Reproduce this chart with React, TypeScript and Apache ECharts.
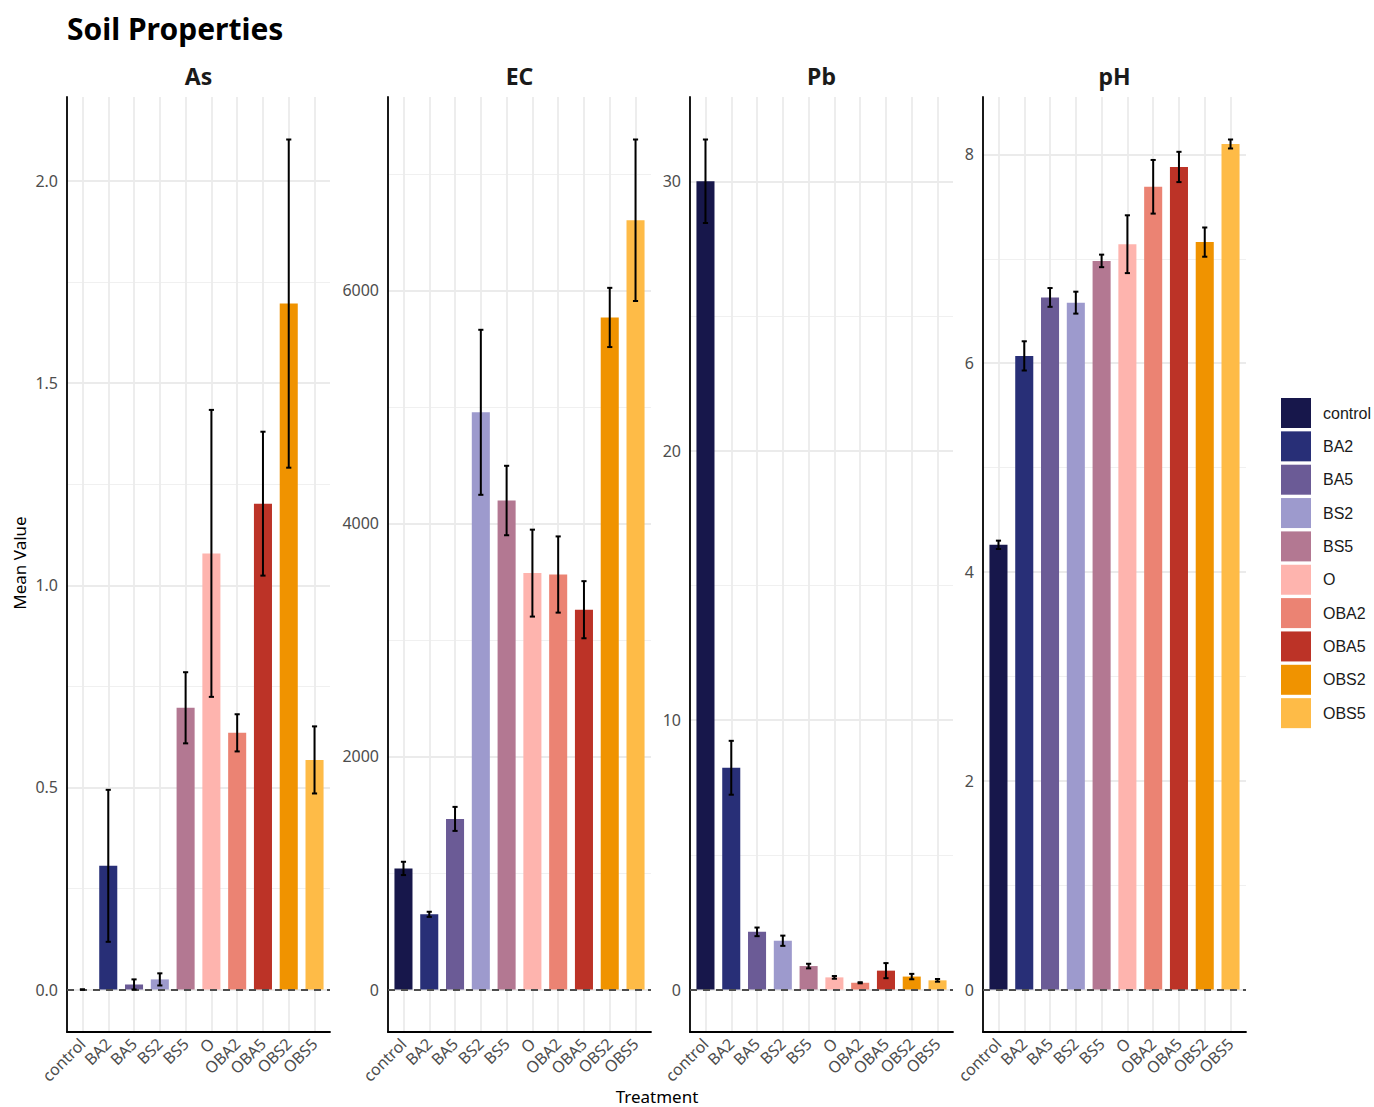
import React, { useEffect, useRef } from "react";
import * as echarts from "echarts";

// Treatments (x categories) and their fill colours
const treatments = ["control", "BA2", "BA5", "BS2", "BS5", "O", "OBA2", "OBA5", "OBS2", "OBS5"];
const treatmentColors = [
  "#17174B", "#282F77", "#6B5B96", "#9D9ACD", "#B37892",
  "#FEB4AE", "#EB8373", "#BC3327", "#F09300", "#FEBB47",
];

// Mean value and standard error per treatment, one pair of arrays per property
const asMean = [0, 0.306, 0.0125, 0.025, 0.697, 1.079, 0.635, 1.202, 1.697, 0.568];
const asSE = [0, 0.188, 0.0125, 0.015, 0.088, 0.355, 0.046, 0.178, 0.406, 0.083];

const ecMean = [1039, 645, 1464, 4953, 4196, 3573, 3561, 3259, 5767, 6601];
const ecSE = [57, 22, 103, 708, 298, 373, 327, 245, 254, 693];

const pbMean = [30.0, 8.23, 2.14, 1.81, 0.87, 0.45, 0.25, 0.7, 0.48, 0.34];
const pbSE = [1.55, 1.0, 0.16, 0.19, 0.085, 0.05, 0.02, 0.28, 0.1, 0.05];

const phMean = [4.26, 6.07, 6.63, 6.58, 6.98, 7.14, 7.69, 7.88, 7.16, 8.1];
const phSE = [0.04, 0.14, 0.09, 0.105, 0.06, 0.277, 0.257, 0.145, 0.14, 0.043];

// Axis breaks per panel
const asTicks = [0, 0.5, 1, 1.5, 2];
const asMinor = [0.25, 0.75, 1.25, 1.75];
const ecTicks = [0, 2000, 4000, 6000];
const ecMinor = [1000, 3000, 5000, 7000];
const pbTicks = [0, 10, 20, 30];
const pbMinor = [5, 15, 25];
const phTicks = [0, 2, 4, 6, 8];
const phMinor = [1, 3, 5, 7];

const panels = [
  { name: "As", mean: asMean, se: asSE, ticks: asTicks, minor: asMinor, digits: 1 },
  { name: "EC", mean: ecMean, se: ecSE, ticks: ecTicks, minor: ecMinor, digits: 0 },
  { name: "Pb", mean: pbMean, se: pbSE, ticks: pbTicks, minor: pbMinor, digits: 0 },
  { name: "pH", mean: phMean, se: phSE, ticks: phTicks, minor: phMinor, digits: 0 },
];

// Layout
const W = 1374;
const H = 1107;
const panelLefts = [67, 388, 690, 983];
const panelWidth = 263;
const panelTop = 97;
const panelHeight = 935;
const FONT = "'Noto Sans', 'DejaVu Sans', sans-serif";
const TICK_COLOR = "#4D4D4D";
const GRID_COLOR = "#EBEBEB";

function buildOption() {
  const grid: any[] = [];
  const xAxis: any[] = [];
  const yAxis: any[] = [];
  const series: any[] = [];
  const graphic: any[] = [];

  panels.forEach((p, i) => {
    const tops = p.mean.map((m, k) => m + p.se[k]);
    const lows = p.mean.map((m, k) => m - p.se[k]);
    const hi = Math.max(0, ...tops);
    const lo = Math.min(0, ...lows);
    const pad = (hi - lo) * 0.05;
    const yMin = lo - pad;
    const yMax = hi + pad;

    grid.push({
      left: panelLefts[i],
      top: panelTop,
      width: panelWidth,
      height: panelHeight,
      containLabel: false,
    });

    const catIdx = treatments.map((_, k) => k);
    xAxis.push({
      gridIndex: i,
      type: "value",
      min: -0.6,
      max: treatments.length - 1 + 0.6,
      axisLine: { show: true, onZero: false, lineStyle: { color: "#000", width: 1.8 } },
      axisTick: { show: false, customValues: catIdx },
      axisLabel: {
        customValues: catIdx,
        rotate: 45,
        margin: 9,
        color: TICK_COLOR,
        fontSize: 16,
        fontFamily: FONT,
        formatter: (v: number) => treatments[Math.round(v)] ?? "",
      },
      splitLine: { show: true, lineStyle: { color: GRID_COLOR, width: 1.8 } },
    });

    // major axis with labels
    yAxis.push({
      gridIndex: i,
      type: "value",
      min: yMin,
      max: yMax,
      axisLine: { show: true, onZero: false, lineStyle: { color: "#000", width: 1.8 } },
      axisTick: { show: false, customValues: p.ticks },
      axisLabel: {
        customValues: p.ticks,
        margin: 9,
        color: TICK_COLOR,
        fontSize: 16,
        fontFamily: FONT,
        formatter: (v: number) => v.toFixed(p.digits),
      },
      splitLine: { show: true, lineStyle: { color: GRID_COLOR, width: 1.8 } },
    });
    // minor grid lines
    yAxis.push({
      gridIndex: i,
      type: "value",
      position: "left",
      min: yMin,
      max: yMax,
      axisLine: { show: false, onZero: false },
      axisTick: { show: false, customValues: p.minor },
      axisLabel: { show: false },
      splitLine: { show: true, lineStyle: { color: "#F0F0F0", width: 1.2 } },
    });

    series.push({
      type: "bar",
      name: p.name,
      xAxisIndex: i,
      yAxisIndex: i * 2,
      barWidth: (panelWidth / (treatments.length + 0.2)) * 0.7,
      z: 2,
      data: treatments.map((t, k) => ({
        name: t,
        value: [k, p.mean[k]],
        itemStyle: { color: treatmentColors[k] },
      })),
      markLine: {
        silent: true,
        symbol: "none",
        label: { show: false },
        lineStyle: { color: "#4D4D4D", type: [7, 6], width: 2 },
        data: [{ yAxis: 0 }],
      },
    });

    series.push({
      type: "custom",
      name: p.name + " SE",
      xAxisIndex: i,
      yAxisIndex: i * 2,
      z: 5,
      encode: { x: 0, y: [1, 2] },
      data: treatments.map((_, k) => [k, lows[k], tops[k]]),
      renderItem: (params: any, api: any) => {
        const x = api.value(0);
        const a = api.coord([x, api.value(1)]);
        const b = api.coord([x, api.value(2)]);
        const half = api.size([1, 0])[0] * 0.1;
        const style = { stroke: "#000", lineWidth: 2 };
        return {
          type: "group",
          children: [
            { type: "line", shape: { x1: a[0], y1: a[1], x2: b[0], y2: b[1] }, style },
            { type: "line", shape: { x1: a[0] - half, y1: a[1], x2: a[0] + half, y2: a[1] }, style },
            { type: "line", shape: { x1: b[0] - half, y1: b[1], x2: b[0] + half, y2: b[1] }, style },
          ],
        };
      },
    });

    // panel strip title
    graphic.push({
      type: "text",
      x: panelLefts[i] + panelWidth / 2,
      y: 76,
      style: {
        text: p.name,
        fontSize: 23,
        fontWeight: "bold",
        fontFamily: FONT,
        fill: "#1A1A1A",
        align: "center",
        verticalAlign: "middle",
      },
    });
  });

  // main title
  graphic.push({
    type: "text",
    x: 67,
    y: 28,
    style: {
      text: "Soil Properties",
      fontSize: 30,
      fontWeight: "bold",
      fontFamily: FONT,
      fill: "#000",
      align: "left",
      verticalAlign: "middle",
    },
  });
  // axis titles
  graphic.push({
    type: "text",
    x: 657,
    y: 1096,
    style: {
      text: "Treatment",
      fontSize: 17,
      fontFamily: FONT,
      fill: "#000",
      align: "center",
      verticalAlign: "middle",
    },
  });
  graphic.push({
    type: "text",
    x: 19,
    y: 563,
    rotation: Math.PI / 2,
    style: {
      text: "Mean Value",
      fontSize: 17,
      fontFamily: FONT,
      fill: "#000",
      align: "center",
      verticalAlign: "middle",
    },
  });

  // legend keys
  treatments.forEach((t, k) => {
    const y = 398 + k * 33.35;
    graphic.push({
      type: "rect",
      shape: { x: 1281, y, width: 30, height: 30 },
      style: { fill: treatmentColors[k] },
    });
    graphic.push({
      type: "text",
      x: 1323,
      y: y + 15,
      style: {
        text: t,
        fontSize: 16,
        fontFamily: "'Liberation Sans', Arial, sans-serif",
        fill: "#1A1A1A",
        align: "left",
        verticalAlign: "middle",
      },
    });
  });

  return {
    animation: false,
    backgroundColor: "#FFFFFF",
    grid,
    xAxis,
    yAxis,
    series,
    graphic,
  };
}

export default function App() {
  const ref = useRef<HTMLDivElement>(null);
  useEffect(() => {
    if (!ref.current) return;
    const chart = echarts.init(ref.current, undefined, { renderer: "svg" });
    chart.setOption(buildOption() as any);
    return () => chart.dispose();
  }, []);
  return (
    <div
      ref={ref}
      style={{ position: "absolute", left: 0, top: 0, width: W, height: H }}
    />
  );
}
